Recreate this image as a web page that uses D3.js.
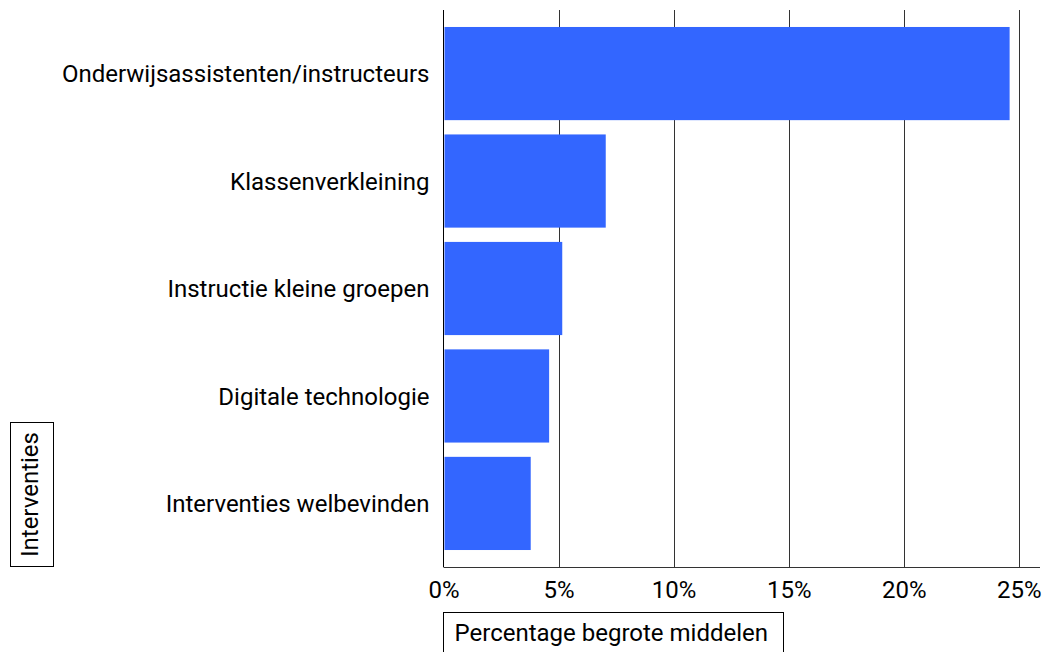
<!DOCTYPE html>
<html>
<head>
<meta charset="utf-8">
<script src="https://cdn.jsdelivr.net/npm/d3@7"></script>
<style>
  body { margin: 0; background: #fff; }
  text { font-family: Roboto, "Noto Sans", sans-serif; fill: #000; }
</style>
</head>
<body>
<script>
// data
var categories = ["Onderwijsassistenten/instructeurs", "Klassenverkleining",
                  "Instructie kleine groepen", "Digitale technologie", "Interventies welbevinden"];
var shares = [24.6, 7.05, 5.16, 4.59, 3.79];
var tickValues = [0, 5, 10, 15, 20, 25];

var svgWidth = 1043, svgHeight = 652;
var plotLeft = 443.5, plotRight = 1040, plotTop = 10, plotBottom = 567;

var svg = d3.select("body").append("svg")
    .attr("width", svgWidth)
    .attr("height", svgHeight);

var xScale = d3.scaleLinear()
    .domain([0, 25.92])
    .range([plotLeft, plotRight]);

var yScale = d3.scaleBand()
    .domain(categories)
    .range([plotTop, plotBottom])
    .paddingInner(0.133)
    .paddingOuter(0.158);

// gridlines
svg.append("g")
   .selectAll("line")
   .data(tickValues.slice(1))
   .enter().append("line")
   .attr("x1", function(d){ return Math.round(xScale(d)) + 0.5; })
   .attr("x2", function(d){ return Math.round(xScale(d)) + 0.5; })
   .attr("y1", plotTop)
   .attr("y2", plotBottom)
   .attr("stroke", "#333")
   .attr("stroke-width", 1);

// bars
svg.append("g")
   .selectAll("rect")
   .data(shares)
   .enter().append("rect")
   .attr("x", xScale(0) + 1)
   .attr("y", function(d, i){ return yScale(categories[i]); })
   .attr("width", function(d){ return xScale(d) - xScale(0) - 1; })
   .attr("height", yScale.bandwidth())
   .attr("fill", "#3366ff");

// bottom axis
var bottomAxis = d3.axisBottom(xScale)
    .tickValues(tickValues)
    .tickSize(0)
    .tickPadding(14)
    .tickFormat(function(d){ return d + "%"; });

var gx = svg.append("g")
    .attr("transform", "translate(0," + plotBottom + ")")
    .call(bottomAxis);
gx.select(".domain").attr("stroke", "#333").attr("d", "M" + plotLeft + ",0.5H" + plotRight);
gx.selectAll("text").attr("font-size", "24px").attr("font-family", "Roboto").attr("fill", "#000");

// left axis
var leftAxis = d3.axisLeft(yScale).tickSize(0).tickPadding(14);
var gy = svg.append("g")
    .attr("transform", "translate(" + plotLeft + ",0)")
    .call(leftAxis);
gy.select(".domain").attr("stroke", "#000").attr("d", "M0," + plotTop + "V" + plotBottom);
gy.selectAll("text").attr("font-size", "24px").attr("font-family", "Roboto")
  .attr("fill", "#000").attr("dy", "0.36em");

// x axis title in a box
var xt = svg.append("g");
xt.append("rect")
  .attr("x", plotLeft)
  .attr("y", 612.5)
  .attr("width", 340)
  .attr("height", 45)
  .attr("fill", "none")
  .attr("stroke", "#000")
  .attr("stroke-width", 1);
xt.append("text")
  .attr("x", 454.5)
  .attr("y", 641)
  .attr("font-size", "24px")
  .text("Percentage begrote middelen");

// y axis title in a box
var yt = svg.append("g");
yt.append("rect")
  .attr("x", 10.5)
  .attr("y", 422.5)
  .attr("width", 43)
  .attr("height", 144)
  .attr("fill", "none")
  .attr("stroke", "#000")
  .attr("stroke-width", 1);
yt.append("text")
  .attr("transform", "translate(38,494.5) rotate(-90)")
  .attr("text-anchor", "middle")
  .attr("font-size", "24px")
  .text("Interventies");
</script>
</body>
</html>
